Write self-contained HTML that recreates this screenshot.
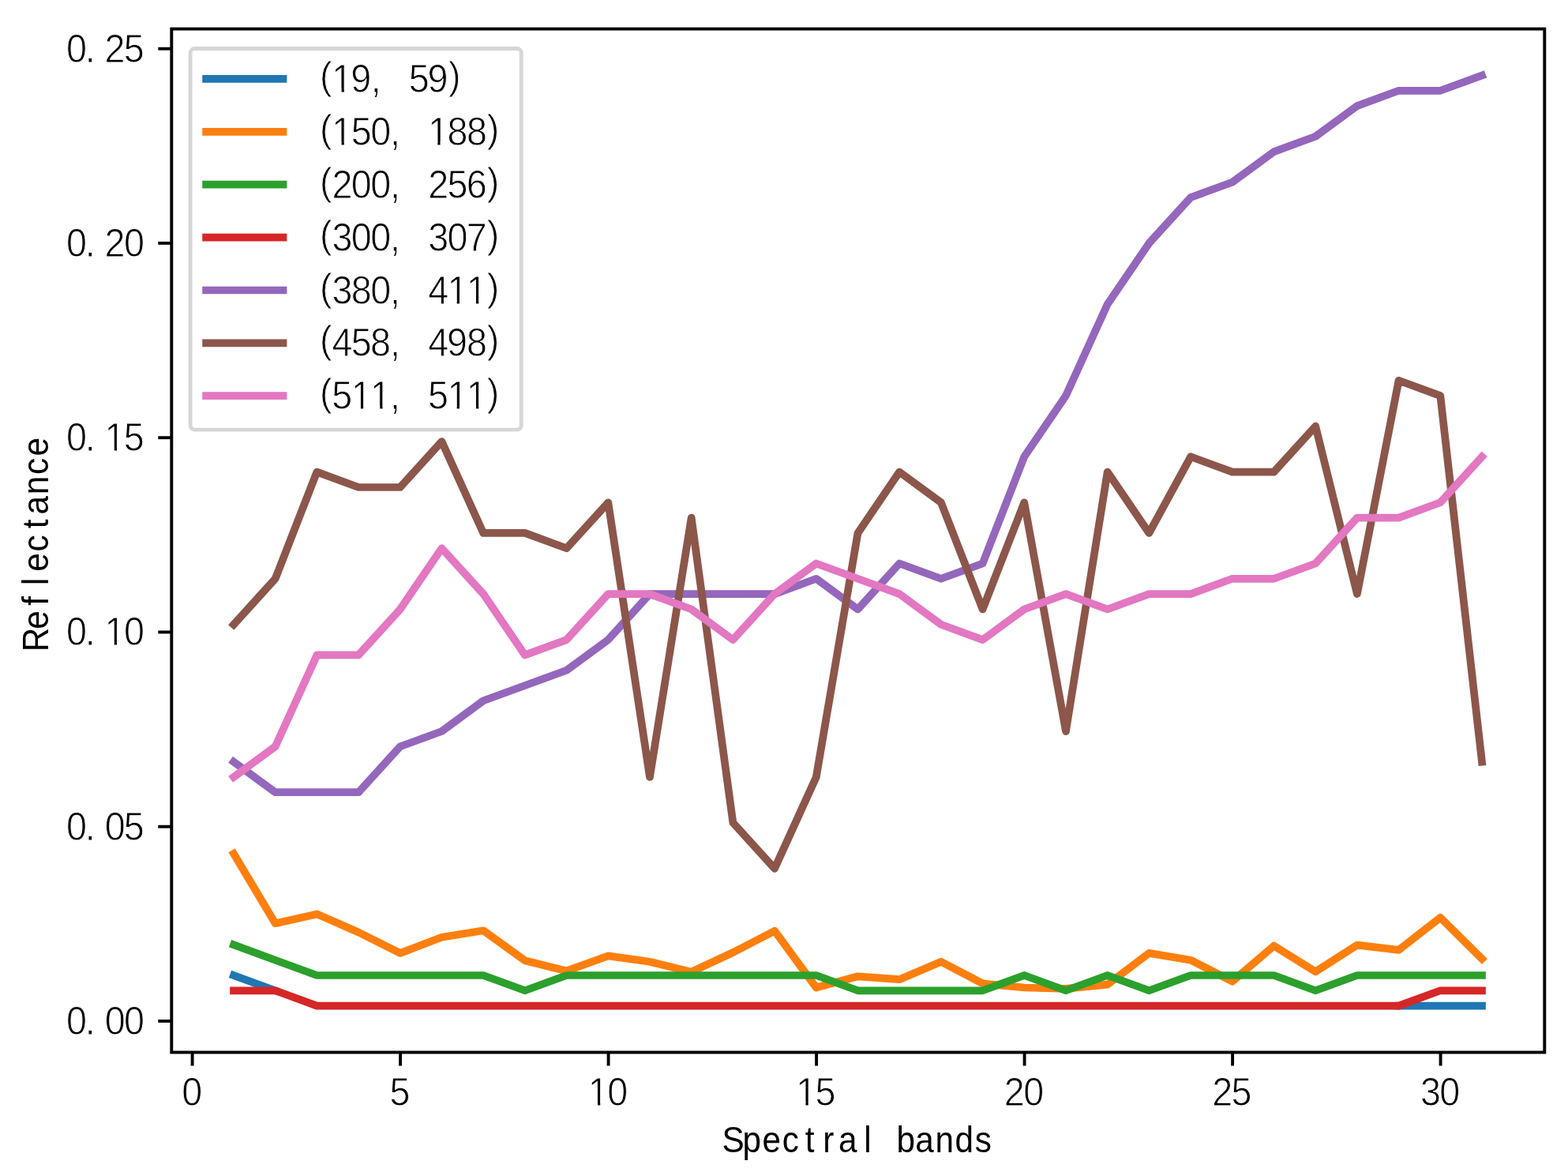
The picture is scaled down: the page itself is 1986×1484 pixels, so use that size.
<!DOCTYPE html>
<html lang="en"><head><meta charset="utf-8"><title>Chart</title>
<style>html,body{margin:0;padding:0;background:#fff}svg{display:block}text{font-family:"Liberation Sans",sans-serif;fill:#000;stroke:#fff;stroke-linejoin:round}</style></head><body>
<svg xmlns="http://www.w3.org/2000/svg" width="1986" height="1484" viewBox="0 0 1986 1484">
<rect width="1986" height="1484" fill="#fff"/>
<g fill="none" stroke-width="9.74" stroke-linecap="square" stroke-linejoin="round">
<polyline stroke="#1f77b4" points="296.0,1235.0 348.7,1254.3"/>
<polyline stroke="#1f77b4" points="1771.6,1273.6 1877.0,1273.6"/>
<polyline stroke="#ff7f0e" points="296.0,1081.0 348.7,1169.2 401.4,1157.4 454.1,1180.5 506.8,1206.9 559.5,1186.7 612.2,1178.3 664.9,1216.3 717.6,1229.4 770.3,1210.4 823.0,1217.8 875.7,1230.7 928.4,1206.0 981.1,1178.7 1033.8,1250.5 1086.5,1236.3 1139.2,1240.2 1191.9,1217.7 1244.6,1245.4 1297.3,1250.5 1350.0,1251.9 1402.7,1246.6 1455.4,1206.9 1508.1,1215.7 1560.8,1242.7 1613.5,1197.6 1666.2,1230.4 1718.9,1196.6 1771.6,1202.9 1824.3,1161.9 1877.0,1214.0"/>
<polyline stroke="#2ca02c" points="296.0,1196.3 348.7,1215.7 401.4,1235.0 454.1,1235.0 506.8,1235.0 559.5,1235.0 612.2,1235.0 664.9,1254.3 717.6,1235.0 770.3,1235.0 823.0,1235.0 875.7,1235.0 928.4,1235.0 981.1,1235.0 1033.8,1235.0 1086.5,1254.3 1139.2,1254.3 1191.9,1254.3 1244.6,1254.3 1297.3,1235.0 1350.0,1254.3 1402.7,1235.0 1455.4,1254.3 1508.1,1235.0 1560.8,1235.0 1613.5,1235.0 1666.2,1254.3 1718.9,1235.0 1771.6,1235.0 1824.3,1235.0 1877.0,1235.0"/>
<polyline stroke="#d62728" points="296.0,1254.3 348.7,1254.3 401.4,1273.6 454.1,1273.6 506.8,1273.6 559.5,1273.6 612.2,1273.6 664.9,1273.6 717.6,1273.6 770.3,1273.6 823.0,1273.6 875.7,1273.6 928.4,1273.6 981.1,1273.6 1033.8,1273.6 1086.5,1273.6 1139.2,1273.6 1191.9,1273.6 1244.6,1273.6 1297.3,1273.6 1350.0,1273.6 1402.7,1273.6 1455.4,1273.6 1508.1,1273.6 1560.8,1273.6 1613.5,1273.6 1666.2,1273.6 1718.9,1273.6 1771.6,1273.6 1824.3,1254.3 1877.0,1254.3"/>
<polyline stroke="#9467bd" points="296.0,964.6 348.7,1003.2 401.4,1003.2 454.1,1003.2 506.8,945.3 559.5,926.0 612.2,887.3 664.9,868.0 717.6,848.7 770.3,810.1 823.0,752.1 875.7,752.1 928.4,752.1 981.1,752.1 1033.8,732.8 1086.5,771.5 1139.2,713.5 1191.9,732.8 1244.6,713.5 1297.3,578.3 1350.0,501.1 1402.7,385.2 1455.4,307.9 1508.1,250.0 1560.8,230.7 1613.5,192.1 1666.2,172.8 1718.9,134.1 1771.6,114.8 1824.3,114.8 1877.0,95.5"/>
<polyline stroke="#8c564b" points="296.0,790.8 348.7,732.8 401.4,597.6 454.1,617.0 506.8,617.0 559.5,559.0 612.2,674.9 664.9,674.9 717.6,694.2 770.3,636.3 823.0,983.9 875.7,655.6 928.4,1041.8 981.1,1099.8 1033.8,983.9 1086.5,674.9 1139.2,597.6 1191.9,636.3 1244.6,771.5 1297.3,636.3 1350.0,926.0 1402.7,597.6 1455.4,674.9 1508.1,578.3 1560.8,597.6 1613.5,597.6 1666.2,539.7 1718.9,752.1 1771.6,481.8 1824.3,501.1 1877.0,964.6"/>
<polyline stroke="#e377c2" points="296.0,983.9 348.7,945.3 401.4,829.4 454.1,829.4 506.8,771.5 559.5,694.2 612.2,752.1 664.9,829.4 717.6,810.1 770.3,752.1 823.0,752.1 875.7,771.5 928.4,810.1 981.1,752.1 1033.8,713.5 1086.5,732.8 1139.2,752.1 1191.9,790.8 1244.6,810.1 1297.3,771.5 1350.0,752.1 1402.7,771.5 1455.4,752.1 1508.1,752.1 1560.8,732.8 1613.5,732.8 1666.2,713.5 1718.9,655.6 1771.6,655.6 1824.3,636.3 1877.0,578.3"/>
</g>
<g stroke="#000" stroke-width="3.90" fill="none">
<line x1="243.6" y1="1332.5" x2="243.6" y2="1349.5"/>
<line x1="507.1" y1="1332.5" x2="507.1" y2="1349.5"/>
<line x1="770.6" y1="1332.5" x2="770.6" y2="1349.5"/>
<line x1="1034.1" y1="1332.5" x2="1034.1" y2="1349.5"/>
<line x1="1297.6" y1="1332.5" x2="1297.6" y2="1349.5"/>
<line x1="1561.1" y1="1332.5" x2="1561.1" y2="1349.5"/>
<line x1="1824.6" y1="1332.5" x2="1824.6" y2="1349.5"/>
<line x1="217.3" y1="1292.9" x2="200.3" y2="1292.9"/>
<line x1="217.3" y1="1046.7" x2="200.3" y2="1046.7"/>
<line x1="217.3" y1="800.4" x2="200.3" y2="800.4"/>
<line x1="217.3" y1="554.2" x2="200.3" y2="554.2"/>
<line x1="217.3" y1="307.9" x2="200.3" y2="307.9"/>
<line x1="217.3" y1="61.7" x2="200.3" y2="61.7"/>
<rect x="217.3" y="36.6" width="1739.0" height="1295.9" stroke-linejoin="miter"/>
</g>
<text font-size="49.2" stroke-width="0.90" transform="translate(0,1399.7) scale(0.950,1)" x="242.26" y="0">0</text>
<text font-size="49.2" stroke-width="0.90" transform="translate(0,1399.7) scale(0.950,1)" x="519.45" y="0">5</text>
<text font-size="49.2" stroke-width="0.90" transform="translate(0,1399.7) scale(0.950,1)" x="784.01 809.78" y="0">10</text><path transform="translate(0,1399.7) scale(0.950,1)" fill="#fff" d="M786.75 -4.28H796.83V1H786.75ZM800.28 -4.28H809.97V1H800.28Z"/>
<text font-size="49.2" stroke-width="0.90" transform="translate(0,1399.7) scale(0.950,1)" x="1061.36 1086.98" y="0">15</text><path transform="translate(0,1399.7) scale(0.950,1)" fill="#fff" d="M1064.11 -4.28H1074.18V1H1064.11ZM1077.63 -4.28H1087.32V1H1077.63Z"/>
<text font-size="49.2" stroke-width="0.90" transform="translate(0,1399.7) scale(0.950,1)" x="1338.75 1364.49" y="0">20</text>
<text font-size="49.2" stroke-width="0.90" transform="translate(0,1399.7) scale(0.950,1)" x="1616.10 1641.68" y="0">25</text>
<text font-size="49.2" stroke-width="0.90" transform="translate(0,1399.7) scale(0.950,1)" x="1893.60 1919.19" y="0">30</text>
<text font-size="49.2" stroke-width="0.90" transform="translate(0,1309.9) scale(0.950,1)" x="88.40 113.35 139.66 165.29" y="0">0.00</text>
<text font-size="49.2" stroke-width="0.90" transform="translate(0,1063.7) scale(0.950,1)" x="88.40 113.35 139.66 165.13" y="0">0.05</text>
<text font-size="49.2" stroke-width="0.90" transform="translate(0,817.4) scale(0.950,1)" x="88.40 113.35 139.51 165.29" y="0">0.10</text><path transform="translate(0,817.4) scale(0.950,1)" fill="#fff" d="M142.26 -4.28H152.34V1H142.26ZM155.78 -4.28H165.47V1H155.78Z"/>
<text font-size="49.2" stroke-width="0.90" transform="translate(0,571.2) scale(0.950,1)" x="88.40 113.35 139.51 165.13" y="0">0.15</text><path transform="translate(0,571.2) scale(0.950,1)" fill="#fff" d="M142.26 -4.28H152.34V1H142.26ZM155.78 -4.28H165.47V1H155.78Z"/>
<text font-size="49.2" stroke-width="0.90" transform="translate(0,324.9) scale(0.950,1)" x="88.40 113.35 139.55 165.29" y="0">0.20</text>
<text font-size="49.2" stroke-width="0.90" transform="translate(0,78.7) scale(0.950,1)" x="88.40 113.35 139.55 165.13" y="0">0.25</text>
<text font-size="46.0" stroke-width="0.00" transform="translate(0,1459) scale(0.920,1)" x="993.94 1022.42 1049.45 1076.80 1108.57 1132.80 1154.30 1189.42 1207.77 1234.16 1260.17 1287.58 1314.60 1342.03" y="0">Spectral bands</text>
<text font-size="46.0" stroke-width="0.00" transform="translate(60.6,821.5) rotate(-90) scale(0.920,1)" x="-4.20 26.95 59.42 87.51 106.36 133.70 165.47 184.74 212.15 239.57 265.16" y="0">Reflectance</text>
<rect x="241.1" y="61.5" width="419.2" height="482.6" rx="5.5" ry="5.5" fill="#fff" fill-opacity="0.8" stroke="#cccccc" stroke-opacity="0.8" stroke-width="4.87"/>
<g stroke-width="9.74" stroke-linecap="square">
<line x1="261.1" y1="99.8" x2="358.5" y2="99.8" stroke="#1f77b4"/>
<line x1="261.1" y1="166.8" x2="358.5" y2="166.8" stroke="#ff7f0e"/>
<line x1="261.1" y1="233.7" x2="358.5" y2="233.7" stroke="#2ca02c"/>
<line x1="261.1" y1="300.6" x2="358.5" y2="300.6" stroke="#d62728"/>
<line x1="261.1" y1="367.5" x2="358.5" y2="367.5" stroke="#9467bd"/>
<line x1="261.1" y1="434.4" x2="358.5" y2="434.4" stroke="#8c564b"/>
<line x1="261.1" y1="501.2" x2="358.5" y2="501.2" stroke="#e377c2"/>
</g>
<text font-size="49.2" stroke-width="0.90" transform="translate(0,116.8) scale(0.950,1)" x="426.38 442.51 467.57 494.37 520.95 545.02 570.09 597.87" y="-4.0 0.0 0.0 0.0 0.0 0.0 0.0 -4.0">(19, 59)</text><path transform="translate(0,116.8) scale(0.950,1)" fill="#fff" d="M445.26 -4.28H455.34V1H445.26ZM458.78 -4.28H468.47V1H458.78Z"/>
<text font-size="49.2" stroke-width="0.90" transform="translate(0,183.8) scale(0.950,1)" x="426.38 442.51 468.13 493.92 520.00 546.58 570.67 596.34 621.98 649.13" y="-4.0 0.0 0.0 0.0 0.0 0.0 0.0 0.0 0.0 -4.0">(150, 188)</text><path transform="translate(0,183.8) scale(0.950,1)" fill="#fff" d="M445.26 -4.28H455.34V1H445.26ZM458.78 -4.28H468.47V1H458.78Z"/><path transform="translate(0,183.8) scale(0.950,1)" fill="#fff" d="M573.42 -4.28H583.49V1H573.42ZM586.94 -4.28H596.63V1H586.94Z"/>
<text font-size="49.2" stroke-width="0.90" transform="translate(0,250.7) scale(0.950,1)" x="426.38 442.55 468.29 493.92 520.00 546.58 570.71 596.29 621.81 649.13" y="-4.0 0.0 0.0 0.0 0.0 0.0 0.0 0.0 0.0 -4.0">(200, 256)</text>
<text font-size="49.2" stroke-width="0.90" transform="translate(0,317.6) scale(0.950,1)" x="426.38 442.70 468.29 493.92 520.00 546.58 570.86 596.45 621.95 649.13" y="-4.0 0.0 0.0 0.0 0.0 0.0 0.0 0.0 0.0 -4.0">(300, 307)</text>
<text font-size="49.2" stroke-width="0.90" transform="translate(0,384.5) scale(0.950,1)" x="426.38 442.70 468.19 493.92 520.00 546.58 570.87 596.30 621.94 649.13" y="-4.0 0.0 0.0 0.0 0.0 0.0 0.0 0.0 0.0 -4.0">(380, 411)</text><path transform="translate(0,384.5) scale(0.950,1)" fill="#fff" d="M599.05 -4.28H609.13V1H599.05ZM612.57 -4.28H622.26V1H612.57Z"/><path transform="translate(0,384.5) scale(0.950,1)" fill="#fff" d="M624.68 -4.28H634.76V1H624.68ZM638.21 -4.28H647.90V1H638.21Z"/>
<text font-size="49.2" stroke-width="0.90" transform="translate(0,451.4) scale(0.950,1)" x="426.38 442.71 468.13 493.82 520.00 546.58 570.87 595.72 621.98 649.13" y="-4.0 0.0 0.0 0.0 0.0 0.0 0.0 0.0 0.0 -4.0">(458, 498)</text>
<text font-size="49.2" stroke-width="0.90" transform="translate(0,518.2) scale(0.950,1)" x="426.38 442.50 468.15 493.78 520.00 546.58 570.66 596.30 621.94 649.13" y="-4.0 0.0 0.0 0.0 0.0 0.0 0.0 0.0 0.0 -4.0">(511, 511)</text><path transform="translate(0,518.2) scale(0.950,1)" fill="#fff" d="M470.89 -4.28H480.97V1H470.89ZM484.42 -4.28H494.11V1H484.42Z"/><path transform="translate(0,518.2) scale(0.950,1)" fill="#fff" d="M496.53 -4.28H506.60V1H496.53ZM510.05 -4.28H519.74V1H510.05Z"/><path transform="translate(0,518.2) scale(0.950,1)" fill="#fff" d="M599.05 -4.28H609.13V1H599.05ZM612.57 -4.28H622.26V1H612.57Z"/><path transform="translate(0,518.2) scale(0.950,1)" fill="#fff" d="M624.68 -4.28H634.76V1H624.68ZM638.21 -4.28H647.90V1H638.21Z"/>
</svg></body></html>
